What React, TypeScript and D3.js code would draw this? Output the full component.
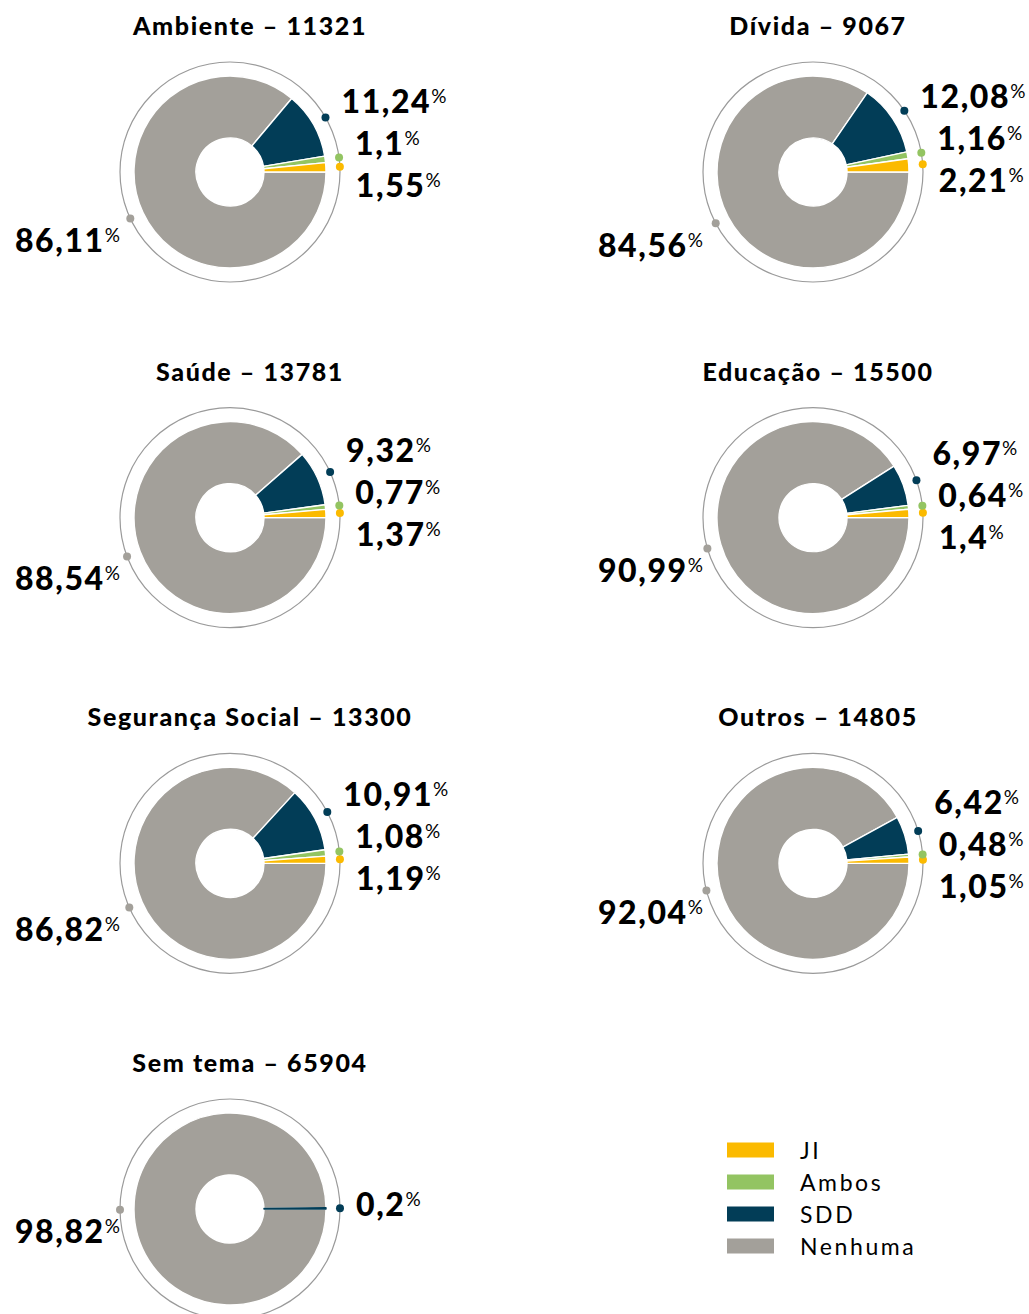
import React from "react";
import * as d3 from "d3";

const themes = ["Ambiente", "Dívida", "Saúde", "Educação", "Segurança Social", "Outros", "Sem tema"];
const totals = [11321, 9067, 13781, 15500, 13300, 14805, 65904];
const jiPct = [1.55, 2.21, 1.37, 1.4, 1.19, 1.05, 0];
const ambosPct = [1.1, 1.16, 0.77, 0.64, 1.08, 0.48, 0];
const sddPct = [11.24, 12.08, 9.32, 6.97, 10.91, 6.42, 0.2];
const nenhumaPct = [86.11, 84.56, 88.54, 90.99, 86.82, 92.04, 98.82];

const seriesNames = ["JI", "Ambos", "SDD", "Nenhuma"];
const seriesColors = ["#FBBA00", "#93C462", "#023D57", "#A3A09A"];

const W = 1029;
const H = 1314;
const FONT = "Lato, 'Noto Sans', sans-serif";

const colX = d3.scalePoint<number>().domain([0, 1]).range([230, 813]);
const titleX = d3.scalePoint<number>().domain([0, 1]).range([250, 818]);
const rowY = d3.scalePoint<number>().domain([0, 1, 2, 3]).range([172, 1209]);

const R_OUT = 96;
const R_IN = 34;
const R_RING = 110;

const fmt = (v: number) => String(v).replace(".", ",");

function PctLabel({ x, y, value, anchor }: { x: number; y: number; value: number; anchor: "start" | "end" }) {
  return (
    <text x={x} y={y + 11.5} textAnchor={anchor} fontFamily={FONT} fill="#000">
      <tspan fontSize={32} fontWeight={900} letterSpacing={1.6}>{fmt(value)}</tspan>
      <tspan fontSize={19} fontWeight={400} dy={-10}>%</tspan>
    </text>
  );
}

function Donut({ i }: { i: number }) {
  const cx = colX(i % 2)!;
  const cy = rowY(Math.floor(i / 2))!;
  const values = [jiPct[i], ambosPct[i], sddPct[i], nenhumaPct[i]];
  const pie = d3
    .pie<number>()
    .sort(null)
    .value((d) => d)
    .startAngle(Math.PI / 2)
    .endAngle(Math.PI / 2 - 2 * Math.PI);
  const arcs = pie(values);
  const arc = d3.arc<d3.PieArcDatum<number>>().innerRadius(R_IN).outerRadius(R_OUT);

  const dots = arcs.map((a, k) => {
    const m = (a.startAngle + a.endAngle) / 2;
    return { k, v: a.data, x: cx + R_RING * Math.sin(m), y: cy - R_RING * Math.cos(m) };
  });
  const right = dots.filter((d) => d.k < 3 && d.v > 0).sort((a, b) => a.y - b.y);
  const meanY = d3.mean(right, (d) => d.y) ?? cy;
  const n = right.length;
  const gap = 42;
  const labelY = right.map((_, j) => meanY - 4 + (j - (n - 1) / 2) * gap);
  const left = dots[3];
  const drawOrder = [3, 2, 1, 0];

  return (
    <g>
      <text
        x={titleX(i % 2)!}
        y={cy - 146 + 9}
        textAnchor="middle"
        fontFamily={FONT}
        fontWeight={900}
        fontSize={25}
        letterSpacing={1.6}
        fill="#000"
      >
        {`${themes[i]} – ${totals[i]}`}
      </text>
      <circle cx={cx} cy={cy} r={R_RING} fill="none" stroke="#9a9a9a" strokeWidth={1.2} />
      <g transform={`translate(${cx},${cy})`}>
        {drawOrder.map((k) => {
          const a = arcs[k];
          if (!(a.data > 0)) return null;
          const tiny = Math.abs(a.endAngle - a.startAngle) < 0.03;
          return (
            <path
              key={k}
              d={arc(a)!}
              fill={seriesColors[k]}
              stroke={tiny ? seriesColors[k] : "#fff"}
              strokeWidth={1.4}
              strokeLinejoin="round"
            />
          );
        })}
      </g>
      {dots
        .filter((d) => d.v > 0)
        .map((d) => (
          <circle key={d.k} cx={d.x} cy={d.y} r={4} fill={seriesColors[d.k]} />
        ))}
      {right.map((d, j) => (
        <PctLabel key={d.k} x={d.x + 16} y={labelY[j]} value={d.v} anchor="start" />
      ))}
      <PctLabel x={cx - 110} y={left.y + 22} value={left.v} anchor="end" />
    </g>
  );
}

function Legend() {
  const order = [0, 1, 2, 3];
  const y = d3.scalePoint<number>().domain(order).range([1150, 1246]);
  return (
    <g>
      {order.map((k) => (
        <g key={k}>
          <rect x={727} y={y(k)! - 7.5} width={47} height={15} fill={seriesColors[k]} />
          <text x={800} y={y(k)! + 8.5} fontFamily={FONT} fontSize={23} letterSpacing={2.6} fill="#000">
            {seriesNames[k]}
          </text>
        </g>
      ))}
    </g>
  );
}

export default function App() {
  return (
    <svg width={W} height={H} style={{ display: "block", position: "absolute", left: 0, top: 0 }}>
      <rect width={W} height={H} fill="#fff" />
      {themes.map((_, i) => (
        <Donut key={i} i={i} />
      ))}
      <Legend />
    </svg>
  );
}
